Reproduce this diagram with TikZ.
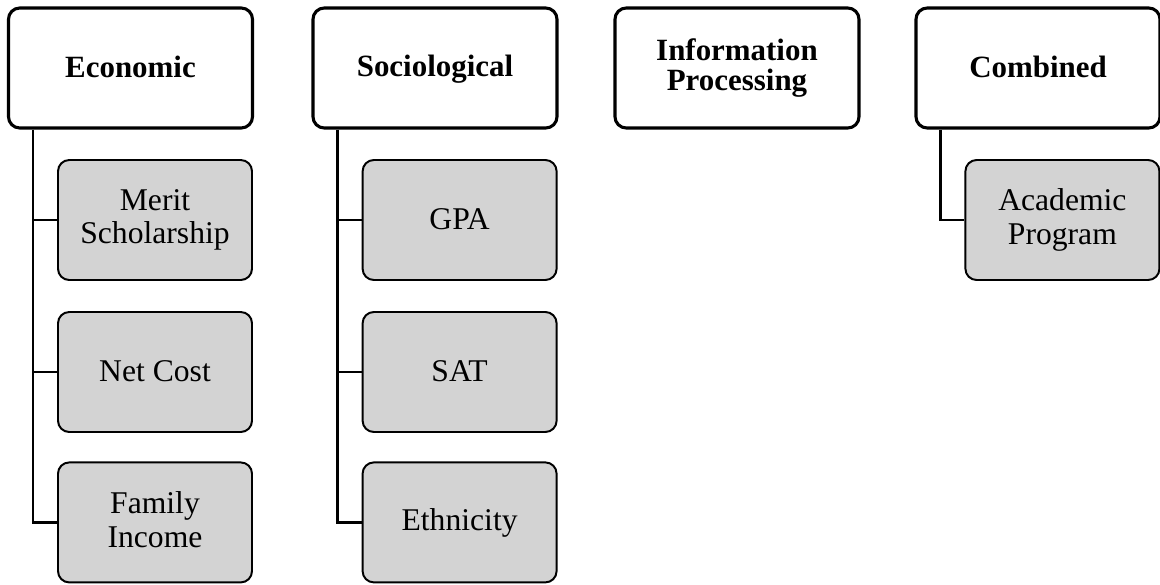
\documentclass[tikz,border=0pt]{standalone}
\usepackage{fontspec}
\setmainfont{Liberation Serif}

\definecolor{factorgray}{RGB}{211,211,211}

\begin{document}
\begin{tikzpicture}[
        every node/.style={font=\fontsize{22.5}{23.7}\selectfont, align=center,
            execute at begin node={\rule{0pt}{17pt}},
            execute at end node={\rule[-4pt]{0pt}{4pt}}},
        theory/.style={draw, line width=2.2pt, rounded corners=8pt,
            minimum width=6.1cm, minimum height=3cm,
            font=\fontsize{22}{21.3}\selectfont\bfseries},
        factor/.style={draw, line width=1.4pt, rounded corners=8pt, fill=factorgray,
            minimum width=4.85cm, minimum height=3cm},
        link/.style={line width=1.6pt}
    ]

        \useasboundingbox (0,0) rectangle (29,-14.6);

        %--------------------------------
        % Theories
        %--------------------------------
        \node[theory] (econ) at (3.2625,-1.7) {Economic};
        \node[theory] (soc)  at (10.875,-1.7) {Sociological};
        \node[theory] (info) at (18.425,-1.7) {Information\\Processing};
        \node[theory] (comb) at (25.95,-1.7) {Combined};

        %--------------------------------
        % Economic
        %--------------------------------
        \foreach \y/\n/\t in {-5.5/merit/{Merit\\Scholarship},-9.3/cost/{Net Cost},-13.06/income/{Family\\Income}}
            \node[factor] (\n) at (3.875,\y) {\t};

        \draw[link] ([xshift=0.65cm]econ.south west) |- (income.west);
        \foreach \n in {merit,cost}
            \draw[link] ([xshift=0.65cm]econ.south west |- \n.west) -- (\n.west);

        %--------------------------------
        % Sociological
        %--------------------------------
        \foreach \y/\n/\t in {-5.5/gpa/GPA,-9.3/sat/SAT,-13.06/ethn/Ethnicity}
            \node[factor] (\n) at (11.49,\y) {\t};

        \draw[link] ([xshift=0.65cm]soc.south west) |- (ethn.west);
        \foreach \n in {gpa,sat}
            \draw[link] ([xshift=0.65cm]soc.south west |- \n.west) -- (\n.west);

        %--------------------------------
        % Combined
        %--------------------------------
        \node[factor] (prog) at (26.56,-5.5) {Academic\\Program};

        \draw[link] ([xshift=0.65cm]comb.south west) |- (prog.west);

    \end{tikzpicture}
\end{document}
